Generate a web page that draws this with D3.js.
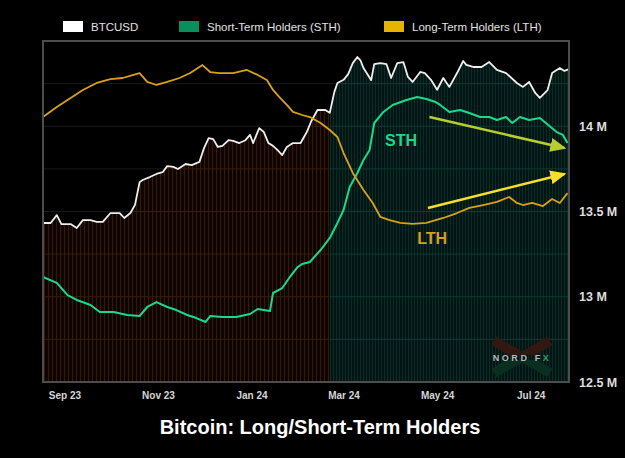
<!DOCTYPE html>
<html>
<head>
<meta charset="utf-8">
<script src="https://cdn.jsdelivr.net/npm/d3@7"></script>
<style>
  body { margin: 0; background: #000; }
  svg { display: block; font-family: "Liberation Sans", Arial, sans-serif; }
</style>
</head>
<body>
<div id="chart"></div>
<script>
// BTC price (USD)
var btcDates = ["2023-08-18","2023-08-23","2023-08-27","2023-08-30","2023-09-05","2023-09-09","2023-09-13","2023-09-18","2023-09-22","2023-09-26",
  "2023-10-01","2023-10-07","2023-10-10","2023-10-14","2023-10-17","2023-10-20","2023-10-22","2023-10-27","2023-10-31","2023-11-04",
  "2023-11-07","2023-11-11","2023-11-14","2023-11-19","2023-11-23","2023-11-28","2023-12-01","2023-12-04","2023-12-07","2023-12-10",
  "2023-12-13","2023-12-17","2023-12-20","2023-12-24","2023-12-28","2023-12-31","2024-01-02","2024-01-06","2024-01-09","2024-01-12",
  "2024-01-15","2024-01-18","2024-01-21","2024-01-24","2024-01-28","2024-02-02","2024-02-06","2024-02-09","2024-02-13","2024-02-18",
  "2024-02-21","2024-02-24","2024-02-26","2024-03-01","2024-03-04","2024-03-07","2024-03-10","2024-03-12","2024-03-14","2024-03-17",
  "2024-03-19","2024-03-21","2024-03-25","2024-03-29","2024-04-01","2024-04-05","2024-04-09","2024-04-12","2024-04-15","2024-04-20",
  "2024-04-23","2024-04-27","2024-05-01","2024-05-05","2024-05-09","2024-05-14","2024-05-18","2024-05-20","2024-05-25","2024-05-30",
  "2024-06-04","2024-06-09","2024-06-15","2024-06-22","2024-06-26","2024-06-30","2024-07-04","2024-07-07","2024-07-12","2024-07-15",
  "2024-07-20","2024-07-23","2024-07-26"];
var btcValues = [26000,26000,28200,25700,25700,24600,26800,26800,26300,26300,
  28800,28800,27400,28800,31100,37500,38100,39000,39800,40300,
  42000,41800,41200,42600,42300,43200,47100,49900,49600,47400,
  47700,49300,49100,48500,49300,50800,48500,52700,51600,48500,
  47700,46500,45100,47400,48500,48500,51600,54700,57800,57800,
  57000,62900,65400,66300,67900,71000,72700,71800,69600,67600,
  66200,70700,71000,70700,66800,71000,71300,67100,65700,68500,
  68200,66300,63500,66800,64300,68200,71600,70500,69900,69900,
  71300,69100,68200,65400,64300,65700,62600,61200,63400,68200,
  69600,68800,69300];

// Short-Term Holders supply (millions)
var sthDates = ["2023-08-18","2023-08-27","2023-09-03","2023-09-09","2023-09-18","2023-09-24","2023-10-03","2023-10-12","2023-10-20","2023-10-25",
  "2023-10-31","2023-11-07","2023-11-13","2023-11-20","2023-11-26","2023-12-02","2023-12-05","2023-12-13","2023-12-22","2023-12-31",
  "2024-01-05","2024-01-13","2024-01-15","2024-01-21","2024-01-26","2024-01-31","2024-02-03","2024-02-08","2024-02-15","2024-02-21",
  "2024-02-26","2024-03-01","2024-03-05","2024-03-10","2024-03-14","2024-03-18","2024-03-21","2024-03-27","2024-04-02","2024-04-11",
  "2024-04-18","2024-04-24","2024-04-30","2024-05-03","2024-05-09","2024-05-16","2024-05-22","2024-05-29","2024-06-04","2024-06-09",
  "2024-06-15","2024-06-19","2024-06-24","2024-06-30","2024-07-07","2024-07-14","2024-07-18","2024-07-22","2024-07-25"];
var sthValues = [13.116,13.081,13.010,12.981,12.952,12.911,12.911,12.893,12.887,12.940,
  12.969,12.940,12.922,12.893,12.875,12.852,12.887,12.881,12.881,12.899,
  12.928,12.916,13.022,13.051,13.116,13.174,13.192,13.204,13.274,13.345,
  13.433,13.509,13.644,13.726,13.802,13.861,14.019,14.084,14.125,14.154,
  14.172,14.160,14.142,14.125,14.084,14.095,14.078,14.054,14.054,14.037,
  14.054,14.019,14.054,14.037,14.048,13.996,13.966,13.949,13.902];

// Long-Term Holders supply (millions)
var lthDates = ["2023-08-18","2023-08-27","2023-09-05","2023-09-13","2023-09-22","2023-10-01","2023-10-09","2023-10-16","2023-10-20","2023-10-25",
  "2023-10-31","2023-11-07","2023-11-15","2023-11-22","2023-11-30","2023-12-05","2023-12-11","2023-12-20","2023-12-29","2024-01-05",
  "2024-01-11","2024-01-15","2024-01-19","2024-01-24","2024-01-28","2024-02-03","2024-02-08","2024-02-15","2024-02-21","2024-02-26",
  "2024-03-01","2024-03-07","2024-03-14","2024-03-20","2024-03-25","2024-03-31","2024-04-07","2024-04-15","2024-04-24","2024-05-05",
  "2024-05-14","2024-05-22","2024-05-31","2024-06-09","2024-06-17","2024-06-22","2024-06-26","2024-07-02","2024-07-09","2024-07-15",
  "2024-07-20","2024-07-25"];
var lthValues = [14.054,14.113,14.166,14.213,14.254,14.277,14.283,14.301,14.312,14.260,
  14.242,14.260,14.283,14.312,14.359,14.318,14.312,14.312,14.330,14.301,
  14.271,14.213,14.172,14.125,14.084,14.066,14.054,14.019,13.978,13.937,
  13.843,13.726,13.626,13.550,13.468,13.450,13.433,13.427,13.433,13.462,
  13.491,13.521,13.538,13.556,13.585,13.550,13.538,13.550,13.532,13.573,
  13.550,13.608];

var monthTicks = ["2023-09-01","2023-11-01","2024-01-01","2024-03-01","2024-05-01","2024-07-01"];
var monthLabels = ["Sep 23","Nov 23","Jan 24","Mar 24","May 24","Jul 24"];
var supplyTicks = [12.5, 13, 13.5, 14];
var supplyLabels = ["12.5 M","13 M","13.5 M","14 M"];
var gridTicks = [12.75, 13, 13.25, 13.5, 13.75, 14, 14.25];
var legendNames = ["BTCUSD", "Short-Term Holders (STH)", "Long-Term Holders (LTH)"];
var splitDate = "2024-02-21";

// annotations
var arrowStartDates = ["2024-04-26", "2024-04-25"];
var arrowStartValues = [14.054, 13.521];
var arrowEndDates = ["2024-07-23", "2024-07-23"];
var arrowEndValues = [13.872, 13.72];
var noteNames = ["STH", "LTH"];
var noteDates = ["2024-03-28", "2024-04-18"];
var noteValues = [13.884, 13.309];

var parse = d3.timeParse("%Y-%m-%d");
function zip(dates, values) {
  return dates.map(function(d, i) { return { date: parse(d), value: values[i] }; });
}
var btc = zip(btcDates, btcValues);
var sth = zip(sthDates, sthValues);
var lth = zip(lthDates, lthValues);

var width = 625, height = 458;
var plotLeft = 43, plotRight = 569, plotTop = 41, plotBottom = 382;

var svg = d3.select("#chart").append("svg").attr("width", width).attr("height", height);
svg.append("rect").attr("width", width).attr("height", height).attr("fill", "#000");

var x = d3.scaleTime().domain([parse("2023-08-18"), parse("2024-07-26")]).range([plotLeft, plotRight]);
var y = d3.scaleLinear().domain([12.5, 14.5]).range([plotBottom, plotTop]);
var yBtc = d3.scaleLinear().domain([20000, 75000]).range([244.3, 48.9]);

var defs = svg.append("defs");

function stripes(id, w, base, line) {
  var p = defs.append("pattern").attr("id", id).attr("patternUnits", "userSpaceOnUse")
    .attr("width", w).attr("height", 4);
  p.append("rect").attr("width", w).attr("height", 4).attr("fill", base);
  p.append("rect").attr("width", 1).attr("height", 4).attr("fill", line);
}
stripes("brownStripes", 4, "#0d0501", "#3a1806");
stripes("tealStripes", 3, "#021513", "#0a2c29");

var area = d3.area()
  .x(function(d) { return x(d.date); })
  .y0(plotBottom)
  .y1(function(d) { return yBtc(d.value); });

var splitX = x(parse(splitDate));
defs.append("clipPath").attr("id", "areaClip").append("path").attr("d", area(btc));
defs.append("clipPath").attr("id", "leftClip").append("rect")
  .attr("x", plotLeft).attr("y", plotTop).attr("width", splitX - plotLeft).attr("height", plotBottom - plotTop);
defs.append("clipPath").attr("id", "rightClip").append("rect")
  .attr("x", splitX).attr("y", plotTop).attr("width", plotRight - splitX).attr("height", plotBottom - plotTop);

function grid(g, color) {
  g.selectAll("line.grid").data(gridTicks).enter().append("line")
    .attr("class", "grid")
    .attr("x1", plotLeft).attr("x2", plotRight)
    .attr("y1", function(d) { return y(d); })
    .attr("y2", function(d) { return y(d); })
    .attr("stroke", color).attr("stroke-width", 1);
}

// grid on black
grid(svg.append("g"), "#1a1a1a");

// striped fill under the BTC line, brown before the split, teal after
var brown = svg.append("g").attr("clip-path", "url(#leftClip)").append("g").attr("clip-path", "url(#areaClip)");
brown.append("rect").attr("x", plotLeft).attr("y", plotTop).attr("width", plotRight - plotLeft).attr("height", plotBottom - plotTop)
  .attr("fill", "url(#brownStripes)");
grid(brown, "#3a1d0c");

var teal = svg.append("g").attr("clip-path", "url(#rightClip)").append("g").attr("clip-path", "url(#areaClip)");
teal.append("rect").attr("x", plotLeft).attr("y", plotTop).attr("width", plotRight - plotLeft).attr("height", plotBottom - plotTop)
  .attr("fill", "url(#tealStripes)");
grid(teal, "#0e3a36");

var line = d3.line()
  .x(function(d) { return x(d.date); })
  .y(function(d) { return y(d.value); });
var btcLine = d3.line()
  .x(function(d) { return x(d.date); })
  .y(function(d) { return yBtc(d.value); });

svg.append("path").datum(btc).attr("d", btcLine)
  .attr("fill", "none").attr("stroke", "#eeeeee").attr("stroke-width", 1.8).attr("stroke-linejoin", "round");
svg.append("path").datum(sth).attr("d", line)
  .attr("fill", "none").attr("stroke", "#1bd98b").attr("stroke-width", 2).attr("stroke-linejoin", "round");
svg.append("path").datum(lth).attr("d", line)
  .attr("fill", "none").attr("stroke", "#d9a11a").attr("stroke-width", 1.8).attr("stroke-linejoin", "round");

// arrows
var arrowColors = ["#b8cd2f", "#f6df2e"];
arrowColors.forEach(function(c, i) {
  defs.append("marker").attr("id", "head" + i)
    .attr("viewBox", "0 0 16 14").attr("refX", 14).attr("refY", 7)
    .attr("markerWidth", 16).attr("markerHeight", 14)
    .attr("markerUnits", "userSpaceOnUse").attr("orient", "auto")
    .append("path").attr("d", "M0,0L16,7L0,14Z").attr("fill", c);
  svg.append("line")
    .attr("x1", x(parse(arrowStartDates[i]))).attr("y1", y(arrowStartValues[i]))
    .attr("x2", x(parse(arrowEndDates[i]))).attr("y2", y(arrowEndValues[i]))
    .attr("stroke", c).attr("stroke-width", 2.5)
    .attr("marker-end", "url(#head" + i + ")");
});

var noteColors = ["#1fd68c", "#d6a01c"];
noteNames.forEach(function(n, i) {
  svg.append("text")
    .attr("x", x(parse(noteDates[i]))).attr("y", y(noteValues[i]))
    .attr("fill", noteColors[i]).attr("font-size", 16).attr("font-weight", "bold")
    .text(n);
});

// watermark
var wm = svg.append("g").attr("transform", "translate(522,357)");
defs.append("clipPath").attr("id", "wmTop").append("rect").attr("x", -40).attr("y", -20).attr("width", 80).attr("height", 18);
defs.append("clipPath").attr("id", "wmBot").append("rect").attr("x", -40).attr("y", 3).attr("width", 80).attr("height", 18);
[["wmTop", "#331812"], ["wmBot", "#0a2e20"]].forEach(function(p) {
  var g = wm.append("g").attr("clip-path", "url(#" + p[0] + ")");
  g.append("line").attr("x1", -28).attr("y1", -16).attr("x2", 28).attr("y2", 16).attr("stroke", p[1]).attr("stroke-width", 10);
  g.append("line").attr("x1", 28).attr("y1", -16).attr("x2", -28).attr("y2", 16).attr("stroke", p[1]).attr("stroke-width", 10);
});
var wmText = wm.append("text").attr("text-anchor", "middle").attr("y", 3.5)
  .attr("font-size", 9).attr("font-weight", "bold").attr("letter-spacing", 2.6).attr("fill", "#b8b8b8");
wmText.append("tspan").text("NORD F");
wmText.append("tspan").attr("fill", "#2fa36a").text("X");

// frame
svg.append("rect").attr("x", plotLeft).attr("y", plotTop).attr("width", plotRight - plotLeft).attr("height", plotBottom - plotTop)
  .attr("fill", "none").attr("stroke", "#4d4d4d").attr("stroke-width", 2);

// axes
var xAxis = svg.append("g").attr("transform", "translate(0," + plotBottom + ")")
  .call(d3.axisBottom(x)
    .tickValues(monthTicks.map(parse))
    .tickFormat(function(d, i) { return monthLabels[i]; })
    .tickSize(0).tickPadding(10));
xAxis.select(".domain").remove();
xAxis.selectAll("text").attr("fill", "#d6d6d6").attr("font-size", 10).attr("font-weight", "bold")
  .attr("font-family", "Liberation Sans, Arial, sans-serif");

var yAxis = svg.append("g").attr("transform", "translate(" + plotRight + ",0)")
  .call(d3.axisRight(y)
    .tickValues(supplyTicks)
    .tickFormat(function(d, i) { return supplyLabels[i]; })
    .tickSize(0).tickPadding(10));
yAxis.select(".domain").remove();
yAxis.selectAll("text").attr("fill", "#dedede").attr("font-size", 12.5).attr("font-weight", "bold")
  .attr("font-family", "Liberation Sans, Arial, sans-serif");

// legend
var legendColors = ["#ffffff", "#0a8f5c", "#e6b400"];
var legendX = [63, 179, 384];
legendNames.forEach(function(n, i) {
  svg.append("rect").attr("x", legendX[i]).attr("y", 21).attr("width", 20).attr("height", 11)
    .attr("fill", legendColors[i]);
  svg.append("text").attr("x", legendX[i] + 28).attr("y", 30.5)
    .attr("fill", "#e2e2e2").attr("font-size", 11.5).text(n);
});

// title
svg.append("text").attr("x", 320).attr("y", 434).attr("text-anchor", "middle")
  .attr("fill", "#ffffff").attr("font-size", 20).attr("font-weight", "bold")
  .text("Bitcoin: Long/Short-Term Holders");
</script>
</body>
</html>
